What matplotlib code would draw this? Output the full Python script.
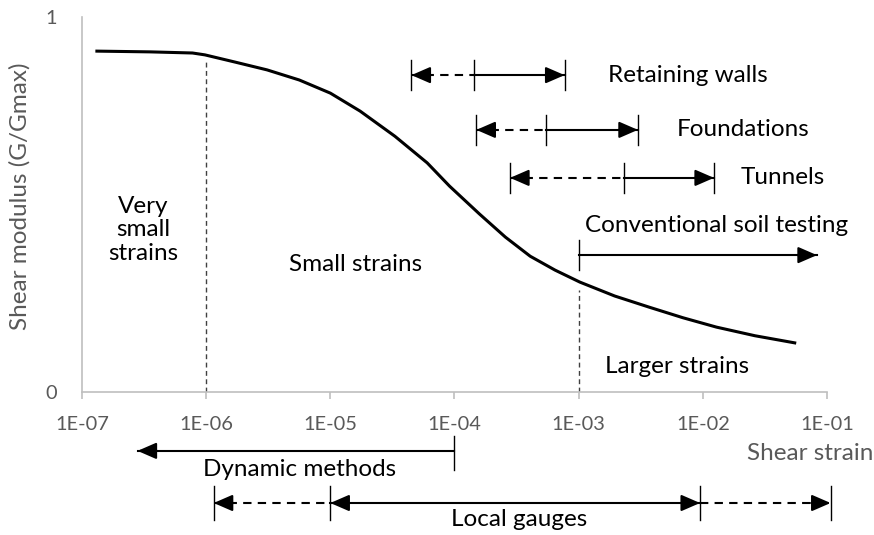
import numpy as np
import matplotlib
matplotlib.use("Agg")
import matplotlib.pyplot as plt

plt.rcParams['font.family'] = ['Lato', 'DejaVu Sans']

# ---- data ----
log_strain = [-6.88, -6.45, -6.11, -6.01, -5.77, -5.51, -5.25, -5.00, -4.76, -4.48,
              -4.22, -4.04, -3.80, -3.59, -3.39, -3.19, -2.99, -2.71, -2.43, -2.16,
              -1.89, -1.58, -1.26]
gmod = [0.909, 0.907, 0.904, 0.899, 0.880, 0.859, 0.832, 0.797, 0.749, 0.682,
        0.611, 0.549, 0.475, 0.413, 0.362, 0.325, 0.293, 0.256, 0.226, 0.198,
        0.173, 0.150, 0.131]
strain = [10 ** v for v in log_strain]

xticks = [1e-7, 1e-6, 1e-5, 1e-4, 1e-3, 1e-2, 1e-1]
xticklabels = ["1E-07", "1E-06", "1E-05", "1E-04", "1E-03", "1E-02", "1E-01"]
yticks = [0, 1]

# range annotations: (label, start, mid, end, y)
ranges_top = [
    ("Retaining walls", 4.5e-5, 1.43e-4, 7.7e-4, 0.845),
    ("Foundations", 1.5e-4, 5.5e-4, 3.0e-3, 0.699),
    ("Tunnels", 2.8e-4, 2.3e-3, 1.23e-2, 0.571),
]
range_label_x = [1.72e-3, 6.2e-3, 2.0e-2]

conv_start, conv_end, conv_y = 1e-3, 8.3e-2, 0.365
dyn_start, dyn_end, dyn_y = 1e-4, 2.8e-7, -0.157
local_pts = [1.15e-6, 1e-5, 9.5e-3, 1.07e-1]
local_y = -0.296

region_lines = [1e-6, 1e-3]
region_tops = [0.899, 0.293]

# ---- figure ----
fig = plt.figure(figsize=(8.74, 5.35), dpi=100)
ax = fig.add_axes([82/874, 1-392/535, (827-82)/874, (392-17)/535])
ax.set_xscale('log')
ax.set_xlim(1e-7, 1e-1)
ax.set_ylim(0, 1)

grey = '#595959'
axcol = '#bfbfbf'
for s in ['top', 'right']:
    ax.spines[s].set_visible(False)
for s in ['left', 'bottom']:
    ax.spines[s].set_color(axcol)
    ax.spines[s].set_linewidth(1.2)

ax.set_xticks(xticks)
ax.set_xticklabels(xticklabels)
ax.xaxis.set_minor_locator(matplotlib.ticker.NullLocator())
ax.set_yticks(yticks)
ax.set_yticklabels([str(v) for v in yticks])
ax.tick_params(axis='x', colors=axcol, labelcolor=grey, labelsize=14.4,
               length=5, width=1.2, direction='out', pad=12)
ax.tick_params(axis='y', length=0, labelcolor=grey, labelsize=14.4, pad=18)

# curve
ax.plot(strain, gmod, color='black', lw=2.2, solid_joinstyle='round')

# region separators
for xv, top in zip(region_lines, region_tops):
    ax.plot([xv, xv], [0, top - 0.02], color='#404040', lw=1.0,
            linestyle=(0, (3.5, 2.5)))

txt = dict(fontsize=17.5, color='black', clip_on=False)
ALW = 1.5


def head(x, y, direction):
    # direction: -1 arrow points left, +1 points right
    ax.annotate('', xy=(x, y), xycoords='data',
                xytext=(-direction * 14, 0), textcoords='offset points',
                arrowprops=dict(arrowstyle='-|>,head_length=1.15,head_width=0.5',
                                color='black', lw=ALW, shrinkA=0, shrinkB=0,
                                mutation_scale=10),
                annotation_clip=False)


def bar(x, y, h=0.04):
    ax.plot([x, x], [y - h, y + h], color='black', lw=1.0, clip_on=False)


dash = (0, (4.0, 3.0))

for (lab, a, m, b, y), lx in zip(ranges_top, range_label_x):
    ax.plot([a, m], [y, y], color='black', lw=ALW, linestyle=dash)
    ax.plot([m, b], [y, y], color='black', lw=ALW)
    head(a, y, -1)
    head(b, y, +1)
    for xv in (a, m, b):
        bar(xv, y)
    ax.text(lx, y, lab, ha='left', va='center', **txt)

# conventional soil testing
ax.plot([conv_start, conv_end], [conv_y, conv_y], color='black', lw=ALW)
head(conv_end, conv_y, +1)
bar(conv_start, conv_y)
ax.text(1.12e-3, 0.445, "Conventional soil testing", ha='left', va='center', **txt)

# dynamic methods
ax.plot([dyn_start, dyn_end], [dyn_y, dyn_y], color='black', lw=ALW, clip_on=False)
head(dyn_end, dyn_y, -1)
bar(dyn_start, dyn_y - 0.005, 0.045)
ax.text(10**-5.245, -0.208, "Dynamic methods", ha='center', va='center', **txt)

# local gauges
p0, p1, p2, p3 = local_pts
ax.plot([p0, p1], [local_y, local_y], color='black', lw=ALW, linestyle=dash, clip_on=False)
ax.plot([p1, p2], [local_y, local_y], color='black', lw=ALW, clip_on=False)
ax.plot([p2, p3], [local_y, local_y], color='black', lw=ALW, linestyle=dash, clip_on=False)
head(p0, local_y, -1)
head(p1, local_y, -1)
head(p2, local_y, +1)
head(p3, local_y, +1)
for xv in local_pts:
    bar(xv, local_y, 0.045)
ax.text(10**-3.48, -0.341, "Local gauges", ha='center', va='center', **txt)

# region labels
ax.text(10**-6.51, 0.432, "Very\nsmall\nstrains", ha='center', va='center',
        linespacing=1.15, **txt)
ax.text(10**-4.794, 0.339, "Small strains", ha='center', va='center', **txt)
ax.text(10**-2.79, 0.067, "Larger strains", ha='left', va='center', **txt)

# axis titles
fig.text(20/874, 1-196/535, "Shear modulus (G/Gmax)", rotation=90, ha='center',
         va='center', color=grey, fontsize=17.5)
fig.text(873/874, 1-453/535, "Shear strain", ha='right', va='center',
         color=grey, fontsize=17.5)

fig.savefig('out.png', dpi=100)
